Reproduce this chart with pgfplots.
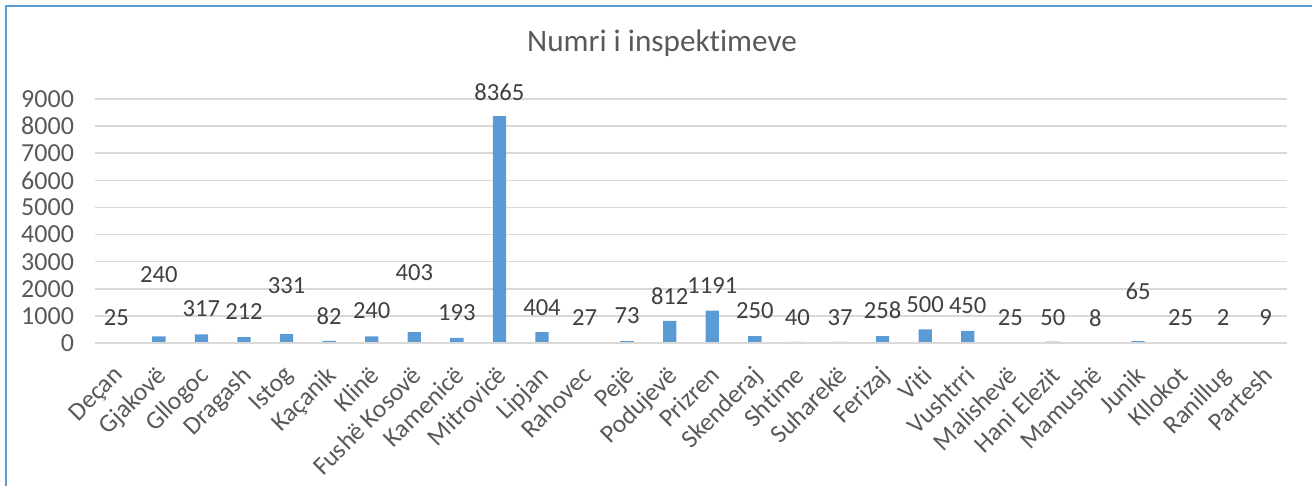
\documentclass[border=0pt]{standalone}
\usepackage{pgfplots}
\pgfplotsset{compat=1.18}
\usepackage{fontspec}
\setmainfont[Ligatures=NoCommon]{Carlito}
\definecolor{barblue}{HTML}{5B9BD5}
\definecolor{gridgray}{HTML}{D9D9D9}
\definecolor{txtgray}{HTML}{595959}
\definecolor{lblgray}{HTML}{404040}
\begin{document}
\begin{tikzpicture}[x=1pt,y=1pt]
\useasboundingbox (0,0) rectangle (656,243);
\draw[barblue, line width=1pt] (3,0) -- (3,240) -- (656,240);
\node[anchor=base, text=txtgray, font=\fontsize{15.6}{18}\selectfont] at (331,217) {Numri i inspektimeve};
\begin{axis}[
  at={(47.5pt,71.5pt)}, anchor=south west,
  scale only axis, width=596pt, height=122pt,
  xmin=-0.5, xmax=27.5, ymin=0, ymax=9000,
  ytick={0,1000,...,9000},
  xtick={0,...,27},
  xticklabels={Deçan,Gjakovë,Gllogoc,Dragash,Istog,Kaçanik,Klinë,Fushë Kosovë,Kamenicë,Mitrovicë,Lipjan,Rahovec,Pejë,Podujevë,Prizren,Skenderaj,Shtime,Suharekë,Ferizaj,Viti,Vushtrri,Malishevë,Hani Elezit,Mamushë,Junik,Kllokot,Ranillug,Partesh},
  xticklabel style={shift={(-2pt,-10.5pt)}, rotate=45, anchor=north east, inner sep=0pt, font=\fontsize{12.8}{15}\selectfont, text=txtgray},
  yticklabel style={font=\fontsize{13}{15}\selectfont, text=txtgray, xshift=-7pt},
  /pgf/number format/assume math mode=true,
  scaled y ticks=false,
  yticklabel={\pgfmathprintnumber[set thousands separator={}]{\tick}},
  major tick length=0pt,
  ymajorgrids, major grid style={gridgray, line width=0.75pt},
  axis line style={draw=none},
  clip=false,
]
\addplot[ybar, bar width=6.65pt, fill=barblue, draw=none] table[x=x,y=y] {
x y
0 25
1 240
2 317
3 212
4 331
5 82
6 240
7 403
8 193
9 8365
10 404
11 27
12 73
13 812
14 1191
15 250
16 40
17 37
18 258
19 500
20 450
21 25
22 50
23 8
24 65
25 25
26 2
27 9
};
\draw[gridgray, line width=0.75pt] (axis cs:-0.5,0) -- (axis cs:27.5,0);
\addplot[draw=none, mark=none, nodes near coords={\pgfplotspointmeta}, point meta=explicit symbolic,
  every node near coord/.style={anchor=center, text=lblgray, font=\fontsize{12.3}{14}\selectfont}]
  table[x=x, y=p, meta=lab] {
x p lab
0 937 25
1 2535 240
2 1269 317
3 1144 212
4 2103 331
5 996 82
6 1207 240
7 2598 403
8 1107 193
9 9262 8365
10 1306 404
11 930 27
12 993 73
13 1734 812
14 2103 1191
15 1207 250
16 930 40
17 930 37
18 1207 258
19 1428 500
20 1365 450
21 930 25
22 930 50
23 930 8
24 1919 65
25 930 25
26 930 2
27 930 9
};
\end{axis}
\end{tikzpicture}
\end{document}
